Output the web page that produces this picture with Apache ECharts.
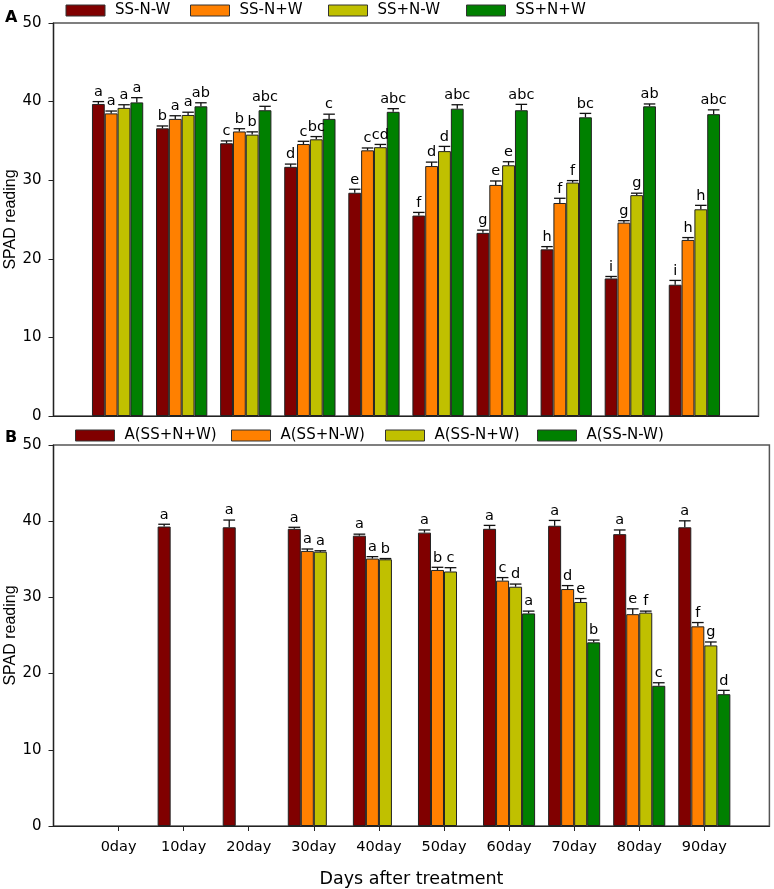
<!DOCTYPE html>
<html><head><meta charset="utf-8">
<script src="https://cdn.jsdelivr.net/npm/echarts@6/dist/echarts.min.js"></script>
<style>html,body{margin:0;padding:0;background:#fff}#c{width:774px;height:889px}</style>
</head><body><div id="c"></div>
<script>
// ---------- data ----------
const days = ['0day','10day','20day','30day','40day','50day','60day','70day','80day','90day'];
const yTicks = [0,10,20,30,40,50];

// Panel A
const namesA = ['SS-N-W','SS-N+W','SS+N-W','SS+N+W'];
const a_SSmNmW = [39.7,36.6,34.7,31.7,28.4,25.5,23.3,21.2,17.5,16.7];
const a_SSmNpW = [38.5,37.8,36.2,34.6,33.8,31.8,29.4,27.1,24.6,22.4];
const a_SSpNmW = [39.2,38.3,35.8,35.2,34.2,33.7,31.9,29.7,28.1,26.3];
const a_SSpNpW = [39.9,39.4,38.9,37.8,38.7,39.1,38.9,38.0,39.4,38.4];
const aErr_SSmNmW = [0.3,0.3,0.3,0.35,0.45,0.4,0.35,0.35,0.25,0.55];
const aErr_SSmNpW = [0.3,0.4,0.35,0.35,0.3,0.5,0.5,0.6,0.25,0.3];
const aErr_SSpNmW = [0.4,0.35,0.35,0.35,0.35,0.6,0.45,0.25,0.25,0.5];
const aErr_SSpNpW = [0.6,0.45,0.5,0.6,0.4,0.5,0.75,0.5,0.3,0.55];
const aLet_SSmNmW = ['a','b','c','d','e','f','g','h','i','i'];
const aLet_SSmNpW = ['a','a','b','c','c','d','e','f','g','h'];
const aLet_SSpNmW = ['a','a','b','bc','cd','d','e','f','g','h'];
const aLet_SSpNpW = ['a','ab','abc','c','abc','abc','abc','bc','ab','abc'];

// Panel B
const namesB = ['A(SS+N+W)','A(SS+N-W)','A(SS-N+W)','A(SS-N-W)'];
const b_SSpNpW = [null,39.3,39.2,39.0,38.1,38.5,39.0,39.4,38.3,39.2];
const b_SSpNmW = [null,null,null,36.1,35.1,33.6,32.2,31.1,27.8,26.2];
const b_SSmNpW = [null,null,null,36.0,35.0,33.4,31.4,29.4,28.0,23.7];
const b_SSmNmW = [null,null,null,null,null,null,27.9,24.1,18.4,17.3];
const bErr_SSpNpW = [null,0.3,0.95,0.2,0.2,0.35,0.45,0.7,0.55,0.85];
const bErr_SSpNmW = [null,null,null,0.25,0.25,0.35,0.4,0.45,0.7,0.5];
const bErr_SSmNpW = [null,null,null,0.12,0.1,0.5,0.35,0.45,0.2,0.45];
const bErr_SSmNmW = [null,null,null,null,null,null,0.3,0.3,0.4,0.5];
const bLet_SSpNpW = ['','a','a','a','a','a','a','a','a','a'];
const bLet_SSpNmW = ['','','','a','a','b','c','d','e','f'];
const bLet_SSmNpW = ['','','','a','b','c','d','e','f','g'];
const bLet_SSmNmW = ['','','','','','','a','b','c','d'];

const colors = ['#800000','#FF8000','#C0C000','#008000'];

// ---------- build ----------
const cats = [''].concat(days).concat(['']);
const pad = arr => [null].concat(arr).concat([null]);
const FONT = "'DejaVu Sans', sans-serif";
const FONT2 = "'Liberation Sans', Arial, sans-serif";

function errRender(pos, errs, lets, vals) {
  return function (params, api) {
    const i = params.dataIndex;
    const v = vals[i], e = errs[i];
    if (v == null) return;
    const ci = i + 1;
    const band = api.size([1, 0])[0];
    const bw = band * 0.8 / 4;
    const p0 = api.coord([ci, v]);
    const p1 = api.coord([ci, v + e]);
    const cx = p0[0] + (pos - 1.5) * bw;
    const half = bw * 0.45;
    const st = { stroke: '#111', lineWidth: 1.3 };
    return {
      type: 'group',
      children: [
        { type: 'line', shape: { x1: cx, y1: p0[1], x2: cx, y2: p1[1] }, style: st },
        { type: 'line', shape: { x1: cx - half, y1: p1[1], x2: cx + half, y2: p1[1] }, style: st },
        { type: 'text', style: { x: cx, y: p1[1] - 2, text: lets[i], fill: '#000',
            font: '14.5px ' + FONT, align: 'center', verticalAlign: 'bottom' } }
      ]
    };
  };
}

function panelSeries(names, valsArr, errsArr, letsArr, axisIdx) {
  const out = [];
  names.forEach((n, k) => {
    out.push({
      name: n, type: 'bar', xAxisIndex: axisIdx, yAxisIndex: axisIdx,
      data: pad(valsArr[k]), barGap: '0%', barCategoryGap: '20%',
      itemStyle: { color: colors[k], borderColor: '#222', borderWidth: 1 },
      emphasis: { disabled: true }, silent: true, animation: false
    });
  });
  names.forEach((n, k) => {
    out.push({
      type: 'custom', xAxisIndex: axisIdx, yAxisIndex: axisIdx,
      data: valsArr[k].map((v, i) => [i + 1, v == null ? 0 : v]),
      renderItem: errRender(k, errsArr[k], letsArr[k], valsArr[k]),
      silent: true, animation: false, z: 5
    });
  });
  return out;
}

const series = []
  .concat(panelSeries(namesA, [a_SSmNmW, a_SSmNpW, a_SSpNmW, a_SSpNpW],
    [aErr_SSmNmW, aErr_SSmNpW, aErr_SSpNmW, aErr_SSpNpW],
    [aLet_SSmNmW, aLet_SSmNpW, aLet_SSpNmW, aLet_SSpNpW], 0))
  .concat(panelSeries(namesB, [b_SSpNpW, b_SSpNmW, b_SSmNpW, b_SSmNmW],
    [bErr_SSpNpW, bErr_SSpNmW, bErr_SSmNpW, bErr_SSmNmW],
    [bLet_SSpNpW, bLet_SSpNmW, bLet_SSmNpW, bLet_SSmNmW], 1));

function yAx(gi) {
  return {
    type: 'value', gridIndex: gi, min: yTicks[0], max: yTicks[yTicks.length - 1], interval: 10,
    name: 'SPAD reading', nameLocation: 'middle', nameGap: 35, nameMoveOverlap: false,
    nameTextStyle: { fontSize: 16, color: '#000', fontFamily: FONT2 },
    axisLine: { show: true, lineStyle: { color: '#222', width: 1.2 } },
    axisTick: { show: true, inside: false, length: 5, lineStyle: { color: '#222' } },
    axisLabel: { fontSize: 15, color: '#000', fontFamily: FONT, margin: 12 },
    splitLine: { show: false }
  };
}
function xAx(gi, showLabel) {
  return {
    type: 'category', gridIndex: gi, data: cats, boundaryGap: false,
    axisLine: { show: true, onZero: false, lineStyle: { color: '#222', width: 1.2 } },
    axisTick: { show: showLabel, length: 5, lineStyle: { color: '#222' },
      interval: (idx, val) => val !== '' },
    axisLabel: { show: showLabel, fontSize: 14.5, color: '#000', fontFamily: FONT, margin: 14,
      interval: (idx, val) => val !== '' },
    name: showLabel ? 'Days after treatment' : '', nameLocation: 'middle', nameGap: 44,
    nameMoveOverlap: false,
    nameTextStyle: { fontSize: 17.5, color: '#000', fontFamily: FONT },
    splitLine: { show: false }
  };
}

function legendItem(name, left, top) {
  return {
    data: [name], left: left, top: top, padding: 0, itemWidth: 39, itemHeight: 11, icon: 'rect',
    selectedMode: false,
    itemStyle: { borderColor: '#333', borderWidth: 1 },
    textStyle: { fontSize: 15, color: '#000', fontFamily: FONT, padding: [0, 0, 0, 5] }
  };
}

const option = {
  animation: false,
  backgroundColor: '#fff',
  grid: [
    { left: 53.5, right: 15.5, top: 23, height: 393, show: true, borderColor: '#555', borderWidth: 1.5,
      backgroundColor: 'transparent', containLabel: false, outerBoundsMode: 'none' },
    { left: 53.5, right: 4.6, top: 445, height: 381, show: true, borderColor: '#555', borderWidth: 1.5,
      backgroundColor: 'transparent', containLabel: false, outerBoundsMode: 'none' }
  ],
  xAxis: [xAx(0, false), xAx(1, true)],
  yAxis: [yAx(0), yAx(1)],
  legend: [
    legendItem(namesA[0], 65.5, 3), legendItem(namesA[1], 190, 3),
    legendItem(namesA[2], 328, 3), legendItem(namesA[3], 466, 3),
    legendItem(namesB[0], 75, 428), legendItem(namesB[1], 231, 428),
    legendItem(namesB[2], 385, 428), legendItem(namesB[3], 537, 428)
  ],
  graphic: [
    { type: 'text', left: 5, top: 10, style: { text: 'A', font: 'bold 16px ' + FONT, fill: '#000' } },
    { type: 'text', left: 5, top: 430, style: { text: 'B', font: 'bold 16px ' + FONT, fill: '#000' } }
  ],
  series: series
};

const chart = echarts.init(document.getElementById('c'), null, { renderer: 'canvas' });
chart.setOption(option);
</script>
</body></html>
